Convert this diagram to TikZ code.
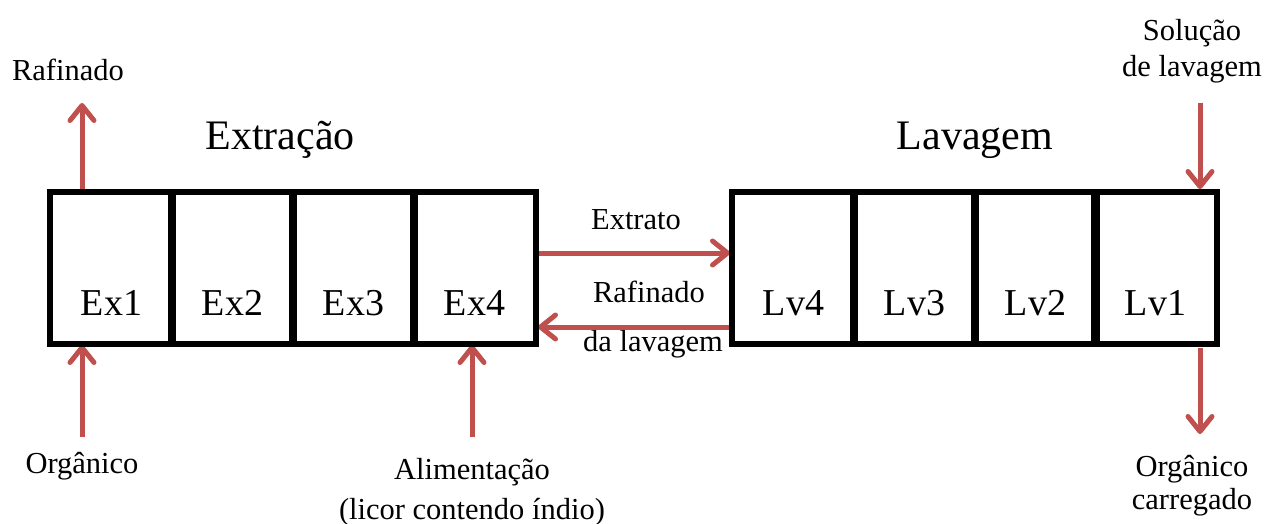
\documentclass[tikz,border=0pt]{standalone}
\usepackage{fontspec}
\setmainfont{Liberation Serif}
\usetikzlibrary{arrows.meta}
\definecolor{arrred}{RGB}{192,80,77}
\tikzset{
  cell/.style={draw=black, line width=4pt, minimum width=121pt, minimum height=150pt, inner sep=0pt},
  flow/.style={draw=arrred, line width=5pt, -{Straight Barb[length=15pt,width=24pt,line cap=round,line join=round]}},
  lbl/.style={font=\fontsize{30.5}{36}\selectfont, inner sep=0pt, align=center},
  ttl/.style={font=\fontsize{42}{48}\selectfont, inner sep=0pt},
  celltxt/.style={font=\fontsize{38}{44}\selectfont, inner sep=0pt}
}
\begin{document}
\begin{tikzpicture}[x=1pt,y=-1pt]
\useasboundingbox (0,0) rectangle (1266,524);
% cells
\node[cell] (ex1) at (111.5,268) {};
\node[cell] (ex2) at (232.5,268) {};
\node[cell] (ex3) at (353.5,268) {};
\node[cell] (ex4) at (474.5,268) {};
\node[cell] (lv4) at (793.5,268) {};
\node[cell] (lv3) at (914.5,268) {};
\node[cell] (lv2) at (1035.5,268) {};
\node[cell] (lv1) at (1155.5,268) {};
\foreach \n/\t in {ex1/Ex1,ex2/Ex2,ex3/Ex3,ex4/Ex4,lv4/Lv4,lv3/Lv3,lv2/Lv2,lv1/Lv1}{
  \node[celltxt] (t\n) at ([yshift=-35pt]\n.center) {\t};
}
% titles
\node[ttl] (textr) at (280,140) {Extração};
\node[ttl] (tlav) at (975,140) {Lavagem};
% labels
\node[lbl] (raf) at (68,70) {Rafinado};
\node[lbl] (org) at (82,466) {Orgânico};
\node[lbl, font=\fontsize{30.5}{40}\selectfont] (alim) at (472,492) {Alimentação\\(licor contendo índio)};
\node[lbl] (extr) at (636,220) {Extrato};
\node[lbl] (raf2) at (649,292) {Rafinado};
\node[lbl] (dalav) at (653,344) {da lavagem};
\node[lbl] (sol) at (1192,51) {Solução\\de lavagem};
\node[lbl, font=\fontsize{30.5}{33}\selectfont] (orgc) at (1192,486) {Orgânico\\carregado};
% connector anchors
\coordinate (rafS) at (82,193);
\coordinate (rafE) at (82,103);
\coordinate (orgS) at (82,437);
\coordinate (orgE) at (82,345);
\coordinate (alS) at (472,437);
\coordinate (alE) at (472,345);
\coordinate (exS) at (537,253);
\coordinate (exE) at (730,253);
\coordinate (rlS) at (730,327);
\coordinate (rlE) at (538,327);
\coordinate (solS) at (1200,103);
\coordinate (solE) at (1200,189);
\coordinate (ocS) at (1200,348);
\coordinate (ocE) at (1200,434);
\draw[flow] (rafS) -- (rafE);
\draw[flow] (orgS) -- (orgE);
\draw[flow] (alS) -- (alE);
\draw[flow] (exS) -- (exE);
\draw[flow] (rlS) -- (rlE);
\draw[flow] (solS) -- (solE);
\draw[flow] (ocS) -- (ocE);
% cell borders on top of arrow ends
\foreach \n in {ex1,ex2,ex3,ex4,lv4,lv3,lv2,lv1}{
  \draw[line width=4pt] (\n.north west) rectangle (\n.south east);
}
\end{tikzpicture}
\end{document}
